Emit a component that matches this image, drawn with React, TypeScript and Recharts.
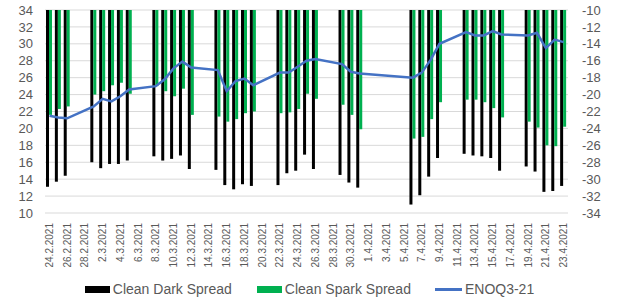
import {
  Bar,
  CartesianGrid,
  ComposedChart,
  Legend,
  Line,
  XAxis,
  YAxis,
} from "recharts";

const FONT = '"Liberation Sans", Arial, sans-serif';
const GREY = "#595959";

// every calendar day on the axis; null = no trading that day
const DAYS = [
  "24.2.2021", "25.2.2021", "26.2.2021", "27.2.2021", "28.2.2021",
  "1.3.2021", "2.3.2021", "3.3.2021", "4.3.2021", "5.3.2021", "6.3.2021", "7.3.2021",
  "8.3.2021", "9.3.2021", "10.3.2021", "11.3.2021", "12.3.2021", "13.3.2021", "14.3.2021",
  "15.3.2021", "16.3.2021", "17.3.2021", "18.3.2021", "19.3.2021", "20.3.2021", "21.3.2021",
  "22.3.2021", "23.3.2021", "24.3.2021", "25.3.2021", "26.3.2021", "27.3.2021", "28.3.2021",
  "29.3.2021", "30.3.2021", "31.3.2021", "1.4.2021", "2.4.2021", "3.4.2021", "4.4.2021", "5.4.2021",
  "6.4.2021", "7.4.2021", "8.4.2021", "9.4.2021", "10.4.2021", "11.4.2021",
  "12.4.2021", "13.4.2021", "14.4.2021", "15.4.2021", "16.4.2021", "17.4.2021", "18.4.2021",
  "19.4.2021", "20.4.2021", "21.4.2021", "22.4.2021", "23.4.2021",
];

const n = null;

const CLEAN_DARK = [
  -30.9, -30.3, -29.6, n, n,
  -28.0, -28.7, -28.2, -28.2, -27.8, n, n,
  -27.3, -27.8, -27.6, -27.2, -28.8, n, n,
  -28.9, -30.7, -31.2, -30.6, -30.8, n, n,
  -30.7, -29.3, -29.0, -27.1, -28.8, n, n,
  -29.5, -30.4, -31.0, n, n, n, n, n,
  -33.0, -31.9, -29.7, -27.5, n, n,
  -27.0, -27.2, -27.3, -27.5, -29.0, n, n,
  -28.5, -29.1, -31.5, -31.4, -30.8,
];

const CLEAN_SPARK = [
  -22.4, -21.7, -21.4, n, n,
  -20.0, -19.6, -18.9, -18.6, -19.9, n, n,
  -19.0, -19.6, -20.2, -19.3, -22.4, n, n,
  -22.6, -23.2, -22.9, -22.2, -22.0, n, n,
  -22.2, -22.1, -21.7, -19.9, -20.5, n, n,
  -21.2, -22.4, -24.1, n, n, n, n, n,
  -25.2, -25.0, -22.9, -20.9, n, n,
  -20.6, -20.6, -20.9, -21.6, -22.7, n, n,
  -23.2, -23.9, -26.0, -26.1, -23.8,
];

const ENOQ3_21 = [
  21.5, 21.3, 21.2, n, n,
  22.6, 23.5, 23.2, 23.8, 24.6, n, n,
  25.0, 25.8, 27.1, 27.9, 27.2, n, n,
  26.9, 24.4, 25.6, 25.9, 25.1, n, n,
  26.6, 26.6, 27.3, 28.0, 28.2, n, n,
  27.6, 26.7, 26.5, n, n, n, n, n,
  26.0, 26.6, 28.1, 30.0, n, n,
  31.4, 31.0, 31.0, 31.5, 31.1, n, n,
  31.0, 31.3, 29.5, 30.5, 30.2,
];

const LEFT_TICKS = [10, 12, 14, 16, 18, 20, 22, 24, 26, 28, 30, 32, 34];
const RIGHT_TICKS = [-34, -32, -30, -28, -26, -24, -22, -20, -18, -16, -14, -12, -10];

const data = DAYS.map((day, i) => ({
  day,
  dark: CLEAN_DARK[i],
  spark: CLEAN_SPARK[i],
  enoq: ENOQ3_21[i],
}));

function DateTick({ x, y, payload }: any) {
  return (
    <text
      transform={`translate(${x},${y + 2}) rotate(-90)`}
      textAnchor="end"
      dominantBaseline="central"
      fontSize={10}
      fontFamily={FONT}
      fill={GREY}
    >
      {payload.value}
    </text>
  );
}

function LegendRow() {
  const text = { fontSize: 14, color: GREY, fontFamily: FONT };
  return (
    <div
      style={{
        display: "flex",
        justifyContent: "center",
        alignItems: "center",
        height: 20,
        ...text,
      }}
    >
      <span style={{ width: 25, height: 7, background: "#000", marginRight: 3 }} />
      <span style={{ marginRight: 25 }}>Clean Dark Spread</span>
      <span style={{ width: 25, height: 7, background: "#00b050", marginRight: 3 }} />
      <span style={{ marginRight: 24 }}>Clean Spark Spread</span>
      <span style={{ width: 27, height: 3, background: "#4472c4", marginRight: 3 }} />
      <span>ENOQ3-21</span>
    </div>
  );
}

export default function App() {
  return (
    <div style={{ position: "absolute", left: 0, top: 0, background: "#fff" }}>
      <ComposedChart
        width={619}
        height={301}
        data={data}
        margin={{ top: 10, right: 0, bottom: 2, left: 0 }}
        barGap={0}
        barSize={3}
      >
        <CartesianGrid yAxisId="left" vertical={false} stroke="#d9d9d9" />
        <XAxis
          dataKey="day"
          interval={1}
          tickLine={false}
          axisLine={false}
          height={66}
          tick={<DateTick />}
        />
        <YAxis
          yAxisId="left"
          domain={[10, 34]}
          ticks={LEFT_TICKS}
          interval={0}
          width={45}
          tickLine={false}
          axisLine={false}
          tickMargin={6}
          tick={{ fill: GREY, fontSize: 13, fontFamily: FONT }}
        />
        <YAxis
          yAxisId="right"
          orientation="right"
          domain={[-34, -10]}
          ticks={RIGHT_TICKS}
          interval={0}
          width={51}
          tickLine={false}
          axisLine={false}
          tickMargin={8}
          tick={{ fill: GREY, fontSize: 13, fontFamily: FONT, textAnchor: "start" }}
        />
        <Bar yAxisId="right" dataKey="dark" fill="#000000" isAnimationActive={false} />
        <Bar yAxisId="right" dataKey="spark" fill="#00b050" isAnimationActive={false} />
        <Line
          yAxisId="left"
          dataKey="enoq"
          stroke="#4472c4"
          strokeWidth={2.5}
          dot={false}
          connectNulls
          type="linear"
          isAnimationActive={false}
        />
        <Legend
          verticalAlign="bottom"
          content={<LegendRow />}
          wrapperStyle={{ left: 0, width: 619 }}
        />
      </ComposedChart>
    </div>
  );
}
